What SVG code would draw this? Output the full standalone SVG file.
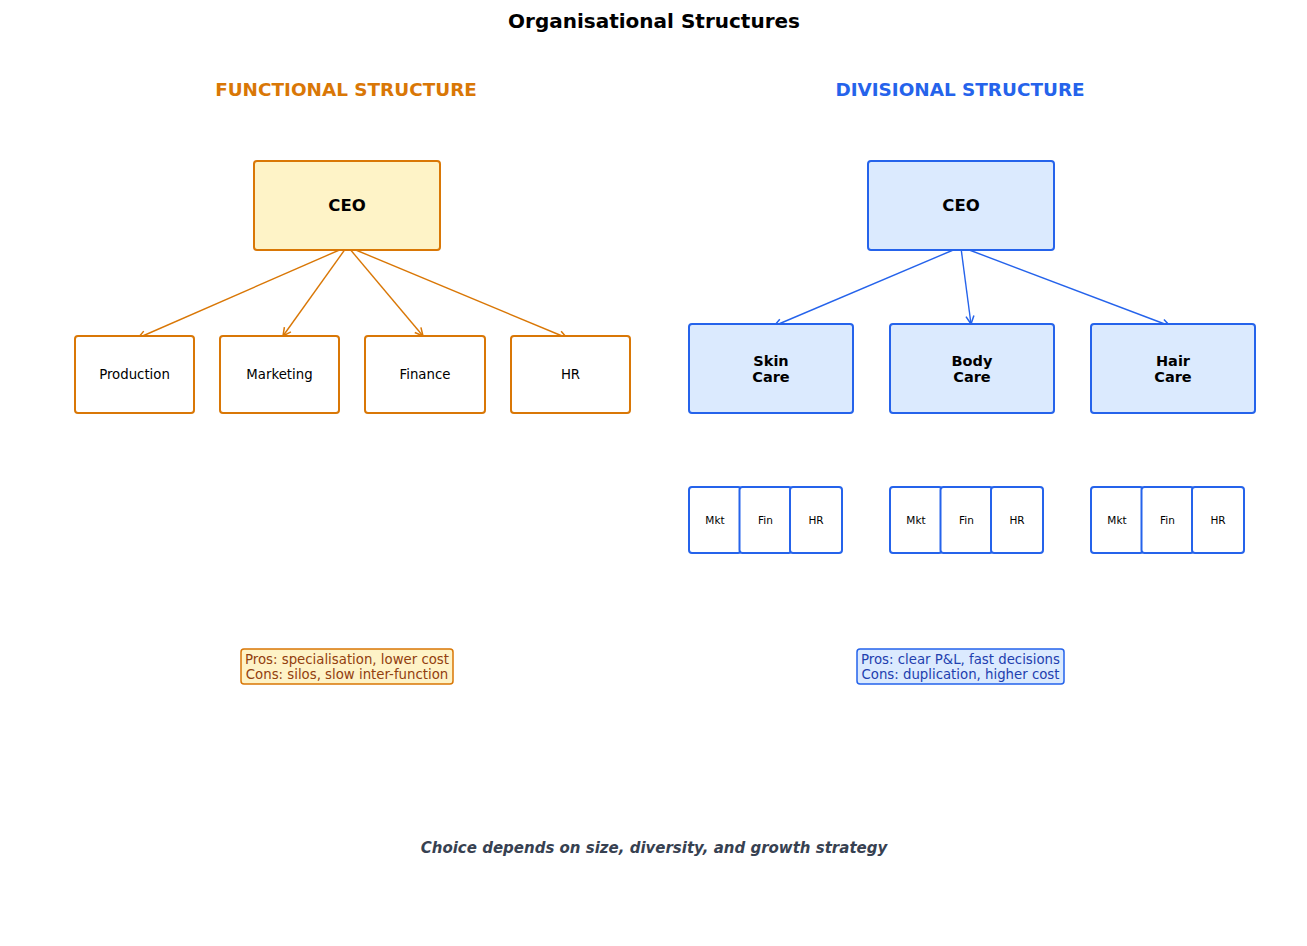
<svg xmlns="http://www.w3.org/2000/svg" width="1307" height="946" viewBox="0 0 1307 946">
<defs>
<marker id="ao" viewBox="0 0 10 10" refX="9" refY="5" markerWidth="10" markerHeight="10" markerUnits="userSpaceOnUse" orient="auto"><path d="M1,1 L9,5 L1,9" fill="none" stroke="#d97706" stroke-width="1.5"/></marker>
<marker id="ab" viewBox="0 0 10 10" refX="9" refY="5" markerWidth="10" markerHeight="10" markerUnits="userSpaceOnUse" orient="auto"><path d="M1,1 L9,5 L1,9" fill="none" stroke="#2563eb" stroke-width="1.5"/></marker>
</defs>
<style>
text{font-family:"DejaVu Sans",sans-serif;text-anchor:middle;dominant-baseline:central}
.o{fill:#fef3c7;stroke:#d97706;stroke-width:2}
.ow{fill:#fff;stroke:#d97706;stroke-width:2}
.b{fill:#dbeafe;stroke:#2563eb;stroke-width:2}
.bw{fill:#fff;stroke:#2563eb;stroke-width:2}
.lo{stroke:#d97706;stroke-width:1.4;fill:none;marker-end:url(#ao)}
.lb{stroke:#2563eb;stroke-width:1.4;fill:none;marker-end:url(#ab)}
.ceo{font-size:16.5px;font-weight:bold}
.f{font-size:13.3px}
.d{font-size:14.5px;font-weight:bold}
.s{font-size:10.5px}
.n{font-size:13.3px}
</style>
<rect width="1307" height="946" fill="#fff"/>
<text x="654" y="21" style="font-size:20px;font-weight:bold">Organisational Structures</text>
<text x="346" y="89" style="font-size:18.4px;font-weight:bold;fill:#d97706">FUNCTIONAL STRUCTURE</text>
<text x="960" y="89" style="font-size:18.4px;font-weight:bold;fill:#2563eb">DIVISIONAL STRUCTURE</text>
<g id="connectors">
<line class="lo" x1="344" y1="248" x2="138" y2="338"/>
<line class="lo" x1="346" y1="248" x2="283" y2="336"/>
<line class="lo" x1="349" y1="248" x2="423" y2="336"/>
<line class="lo" x1="351" y1="248" x2="567" y2="338"/>
<line class="lb" x1="958" y1="248" x2="774" y2="326"/>
<line class="lb" x1="961" y1="248" x2="971" y2="324"/>
<line class="lb" x1="964" y1="248" x2="1170" y2="326"/>
</g>
<g id="f-ceo"><rect class="o" x="254" y="161" width="186" height="89" rx="3"/><text class="ceo" x="347" y="205">CEO</text></g>
<g id="f-production"><rect class="ow" x="75" y="336" width="119" height="77" rx="3"/><text class="f" x="134.5" y="374">Production</text></g>
<g id="f-marketing"><rect class="ow" x="220" y="336" width="119" height="77" rx="3"/><text class="f" x="279.5" y="374">Marketing</text></g>
<g id="f-finance"><rect class="ow" x="365" y="336" width="120" height="77" rx="3"/><text class="f" x="425" y="374">Finance</text></g>
<g id="f-hr"><rect class="ow" x="511" y="336" width="119" height="77" rx="3"/><text class="f" x="570.5" y="374">HR</text></g>
<g id="d-ceo"><rect class="b" x="868" y="161" width="186" height="89" rx="3"/><text class="ceo" x="961" y="205">CEO</text></g>
<g id="d-skin"><rect class="b" x="689" y="324" width="164" height="89" rx="3"/><text class="d" x="771" y="361">Skin</text><text class="d" x="771" y="377">Care</text></g>
<g id="d-body"><rect class="b" x="890" y="324" width="164" height="89" rx="3"/><text class="d" x="972" y="361">Body</text><text class="d" x="972" y="377">Care</text></g>
<g id="d-hair"><rect class="b" x="1091" y="324" width="164" height="89" rx="3"/><text class="d" x="1173" y="361">Hair</text><text class="d" x="1173" y="377">Care</text></g>
<g id="skin-mkt"><rect class="bw" x="689" y="487" width="52" height="66" rx="3"/><text class="s" x="715" y="520">Mkt</text></g>
<g id="skin-fin"><rect class="bw" x="739.5" y="487" width="52" height="66" rx="3"/><text class="s" x="765.5" y="520">Fin</text></g>
<g id="skin-hr"><rect class="bw" x="790" y="487" width="52" height="66" rx="3"/><text class="s" x="816" y="520">HR</text></g>
<g id="body-mkt"><rect class="bw" x="890" y="487" width="52" height="66" rx="3"/><text class="s" x="916" y="520">Mkt</text></g>
<g id="body-fin"><rect class="bw" x="940.5" y="487" width="52" height="66" rx="3"/><text class="s" x="966.5" y="520">Fin</text></g>
<g id="body-hr"><rect class="bw" x="991" y="487" width="52" height="66" rx="3"/><text class="s" x="1017" y="520">HR</text></g>
<g id="hair-mkt"><rect class="bw" x="1091" y="487" width="52" height="66" rx="3"/><text class="s" x="1117" y="520">Mkt</text></g>
<g id="hair-fin"><rect class="bw" x="1141.5" y="487" width="52" height="66" rx="3"/><text class="s" x="1167.5" y="520">Fin</text></g>
<g id="hair-hr"><rect class="bw" x="1192" y="487" width="52" height="66" rx="3"/><text class="s" x="1218" y="520">HR</text></g>
<g id="f-notes"><rect x="241" y="649" width="212" height="35" rx="3" fill="#fef3c7" stroke="#d97706" stroke-width="1.5"/><text class="n" x="347" y="659" fill="#92400e">Pros: specialisation, lower cost</text><text class="n" x="347" y="674" fill="#92400e">Cons: silos, slow inter-function</text></g>
<g id="d-notes"><rect x="857" y="649" width="207" height="35" rx="3" fill="#dbeafe" stroke="#2563eb" stroke-width="1.5"/><text class="n" x="960.5" y="659" fill="#1e40af">Pros: clear P&amp;L, fast decisions</text><text class="n" x="960.5" y="674" fill="#1e40af">Cons: duplication, higher cost</text></g>
<text x="654" y="848" style="font-size:15px;font-weight:bold;font-style:italic;fill:#374151">Choice depends on size, diversity, and growth strategy</text>
</svg>
